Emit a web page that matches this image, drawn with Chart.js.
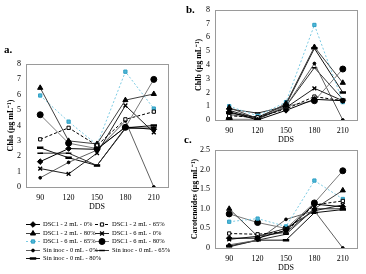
<!DOCTYPE html>
<html>
<head>
<meta charset="utf-8">
<script src="https://cdn.jsdelivr.net/npm/chart.js@4.4.1/dist/chart.umd.min.js"></script>
<style>
  body { margin: 0; background: #fff; width: 366px; height: 274px; position: relative; overflow: hidden; }
  canvas { position: absolute; }
</style>
</head>
<body>
<canvas id="chartA" width="190" height="234" style="left:0;top:40px"></canvas>
<canvas id="chartB" width="186" height="146" style="left:180px;top:0"></canvas>
<canvas id="chartC" width="186" height="144" style="left:180px;top:130px"></canvas>
<script>
// days after sowing
var days = ['90', '120', '150', '180', '210'];

var seriesNames = [
  'DSC1 - 2 mL - 0%', 'DSC1 - 2 mL - 65%',
  'DSC1 - 2 mL - 80%', 'DSC1 - 6 mL - 0%',
  'DSC1 - 6 mL - 65%', 'DSC1 - 6 mL - 80%',
  'Sin inoc - 0 mL - 0%', 'Sin inoc - 0 mL - 65%',
  'Sin inoc - 0 mL - 80%'
];

// one row per series, same order as seriesNames
var chlaValues = [
  [1.65, 2.5, 2.45, 3.9, 3.75],
  [3.1, 3.85, 2.7, 4.4, 4.9],
  [6.45, 3.0, 2.8, 5.65, 6.05],
  [1.2, 0.85, 2.2, 5.3, 3.55],
  [5.95, 4.25, 2.75, 7.5, 5.1],
  [4.7, 2.85, 2.5, 3.88, 7.0],
  [0.6, 1.6, 2.4, 4.3, 0],
  [2.2, 2.2, 1.4, 3.8, 3.85],
  [2.55, 1.9, 1.4, 3.85, 4.0]
];

var chlbValues = [
  [0.6, 0.0, 0.7, 1.5, 1.4],
  [0.3, 0.2, 0.8, 1.7, 1.4],
  [0.9, 0.1, 1.2, 5.3, 2.7],
  [0.7, 0.1, 0.9, 2.3, 1.4],
  [1.0, 0.3, 1.3, 6.9, 1.3],
  [0.05, 0.05, 1.0, 1.4, 3.7],
  [0.4, 0.1, 1.0, 4.1, 0],
  [0.8, 0.5, 1.0, 3.8, 1.5],
  [0.5, 0.2, 1.1, 5.2, 2.0]
];

var caroValues = [
  [0.25, 0.25, 0.45, 1.12, 1.05],
  [0.37, 0.35, 0.42, 1.1, 1.2],
  [1.0, 0.3, 0.4, 1.0, 1.47],
  [0.22, 0.3, 0.5, 0.95, 1.1],
  [0.67, 0.75, 0.55, 1.72, 1.25],
  [0.87, 0.65, 0.5, 1.15, 1.97],
  [0.08, 0.2, 0.73, 0.95, 0],
  [0.03, 0.2, 0.35, 1.0, 1.0],
  [0.05, 0.2, 0.2, 0.9, 0.98]
];

// marker / line look for each series
var looks = [
  { color: '#000000', dash: [], point: 'rectRot', r: 2.8, fill: '#000', border: '#000', bw: 1 },
  { color: '#000000', dash: [3, 2], point: 'rect', r: 2.3, fill: '#fff', border: '#000', bw: 1 },
  { color: '#404040', dash: [], point: 'triangle', r: 3, fill: '#000', border: '#000', bw: 1 },
  { color: '#202020', dash: [], point: 'crossRot', r: 2.7, fill: '#000', border: '#000', bw: 1.4 },
  { color: '#7ccbe3', dash: [2, 2], point: 'rect', r: 2.3, fill: '#4fb8d8', border: '#2f9fc4', bw: 1 },
  { color: '#7a7a7a', dash: [], point: 'circle', r: 3, fill: '#000', border: '#000', bw: 1 },
  { color: '#606060', dash: [], point: 'circle', r: 1.4, fill: '#000', border: '#000', bw: 1 },
  { color: '#303030', dash: [], point: 'line', r: 2.8, fill: '#000', border: '#000', bw: 1.5 },
  { color: '#101010', dash: [], point: 'line', r: 3.2, fill: '#000', border: '#000', bw: 2.5 }
];

var serif = 'Liberation Serif, Times New Roman, serif';

function makeDatasets(values) {
  return values.map(function (row, i) {
    var l = looks[i];
    return {
      label: seriesNames[i],
      data: row,
      borderColor: l.color,
      borderWidth: 1,
      borderDash: l.dash,
      pointStyle: l.point,
      pointRadius: l.r,
      pointBackgroundColor: l.fill,
      pointBorderColor: l.border,
      pointBorderWidth: l.bw,
      tension: 0,
      fill: false
    };
  });
}

var boxPlugin = {
  id: 'box',
  afterDraw: function (chart, args, opts) {
    var a = chart.chartArea, ctx = chart.ctx;
    ctx.save();
    ctx.strokeStyle = '#9a9a9a';
    ctx.lineWidth = 1;
    ctx.strokeRect(Math.round(a.left) + 0.5, Math.round(a.top) + 0.5,
      Math.round(a.right - a.left), Math.round(a.bottom - a.top));
    ctx.fillStyle = '#000';
    ctx.font = 'bold 11px ' + serif;
    ctx.textBaseline = 'middle';
    ctx.fillText(opts.letter, opts.lx, opts.ly);
    ctx.restore();
  }
};

var legendPlugin = {
  id: 'sideLegend',
  afterDraw: function (chart) {
    var ctx = chart.ctx;
    var rowsY = [184, 192.5, 201, 209.5, 218];
    var colsX = [26, 95];
    ctx.save();
    ctx.font = '6.5px ' + serif;
    ctx.textBaseline = 'middle';
    chart.data.datasets.forEach(function (ds, i) {
      var x = colsX[i % 2], y = Math.round(rowsY[Math.floor(i / 2)]);
      ctx.strokeStyle = ds.borderColor;
      ctx.lineWidth = 1;
      ctx.setLineDash(ds.borderDash);
      ctx.beginPath();
      ctx.moveTo(x, y + 0.5);
      ctx.lineTo(x + 14, y + 0.5);
      ctx.stroke();
      ctx.setLineDash([]);
      ctx.fillStyle = ds.pointBackgroundColor;
      ctx.strokeStyle = ds.pointBorderColor;
      ctx.lineWidth = ds.pointBorderWidth;
      Chart.helpers.drawPoint(ctx, {
        pointStyle: ds.pointStyle, radius: ds.pointRadius, rotation: 0, borderWidth: ds.pointBorderWidth
      }, x + 7, y + 0.5);
      ctx.fillStyle = '#000';
      ctx.fillText(ds.label, x + 17, y + 0.5);
    });
    ctx.restore();
  }
};

function makeChart(id, values, yTitle, yMax, yStep, yWidth, titlePad, pad, letter, lx, ly, extra) {
  var plugins = [boxPlugin];
  if (extra) plugins.push(extra);
  return new Chart(document.getElementById(id), {
    type: 'line',
    data: { labels: days, datasets: makeDatasets(values) },
    plugins: plugins,
    options: {
      responsive: false,
      animation: false,
      layout: { padding: pad },
      plugins: {
        legend: { display: false },
        tooltip: { enabled: false },
        box: { letter: letter, lx: lx, ly: ly }
      },
      scales: {
        x: {
          offset: true,
          grid: { display: false, drawTicks: false },
          border: { display: false },
          ticks: { color: '#000', padding: 6, font: { family: serif, size: 8 } },
          title: { display: true, text: 'DDS', color: '#000', padding: { top: 0, bottom: 1 }, font: { family: serif, size: 8 } },
          afterFit: function (s) { s.height = 26; }
        },
        y: {
          min: 0, max: yMax,
          grid: { display: false, drawTicks: false },
          border: { display: false },
          ticks: { stepSize: yStep, color: '#000', padding: 5, font: { family: serif, size: 8 } },
          title: { display: true, text: yTitle, color: '#000', padding: { top: titlePad, bottom: 0 }, font: { family: serif, size: 8, weight: 'bold' } },
          afterFit: function (s) { s.width = yWidth; }
        }
      }
    }
  });
}

makeChart('chartA', chlaValues, 'Chla (µg mL⁻¹)', 8, 1, 26, 6,
  { left: 0, top: 24, right: 22, bottom: 61 }, 'a.', 4, 10, legendPlugin);
makeChart('chartB', chlbValues, 'Chlb (µg mL⁻¹)', 8, 1, 35, 14,
  { left: 0, top: 9, right: 9, bottom: 0 }, 'b.', 6, 10, null);
makeChart('chartC', caroValues, 'Carotenoides (µg mL⁻¹)', 2.5, 0.5, 35, 10,
  { left: 0, top: 20, right: 9, bottom: 0 }, 'c.', 4, 10, null);
</script>
</body>
</html>
